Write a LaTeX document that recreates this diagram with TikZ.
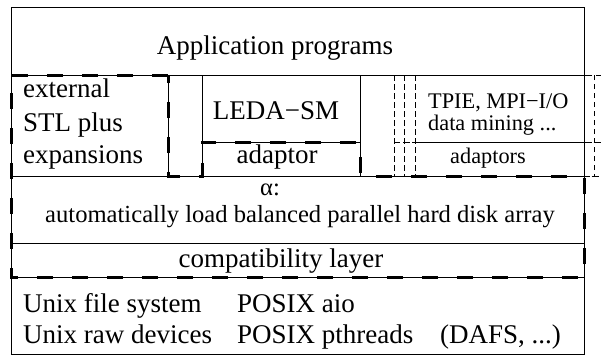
\documentclass[tikz,border=0pt]{standalone}
\usepackage{fontspec}
\setmainfont{Liberation Serif}
\usetikzlibrary{calc,positioning}

\begin{document}
\begin{tikzpicture}[x=1pt,y=-1pt,
  thinline/.style={line width=0.9pt},
  bolddash/.style={line width=3pt,dash pattern=on 16pt off 19pt},
  lightdash/.style={line width=0.6pt,dash pattern=on 5.5pt off 3.5pt},
  big/.style={inner sep=0pt,font=\fontsize{27}{31}\selectfont},
  mid/.style={inner sep=0pt,font=\fontsize{24.6}{28}\selectfont},
  small/.style={inner sep=0pt,font=\fontsize{22.3}{26}\selectfont}]
  \useasboundingbox (0,0) rectangle (601,356);

  % layer frames
  \draw[thinline] (11,7) rectangle (584,354);
  \draw[thinline] (11,75) -- (584,75);
  \draw[thinline] (11,176) -- (584,176);
  \draw[thinline] (11,243) -- (584,243);
  \draw[thinline] (11,277) -- (584,277);
  \draw[thinline] (168,75) -- (168,176);
  \draw[thinline] (202,75) -- (202,176) (360,75) -- (360,176);
  \draw[thinline] (202,142) -- (360,142);

  % stacked external libraries
  \foreach \d in {0,1,2}{
    \draw[lightdash] ($(394,75)+(\d*10.5,0)$) rectangle +(190,101);
    \draw[lightdash] ($(394,142)+(\d*10.5,0)$) -- +(190,0);
  }

  % the alpha part
  \draw[bolddash] (168,75) -- (11,75) -- (11,277) -- (584,277) -- (584,176)
    -- (360,176) -- (360,142) -- (202,142) -- (202,176) -- (168,176) -- cycle;

  \node[big,anchor=base] (app) at (275,54) {Application programs};

  \node[big,anchor=base west] (ext) at (23,97) {external};
  \node[big,anchor=base west] (stl) at (23,131) {STL plus};
  \node[big,anchor=base west] (expn) at (23,163) {expansions};

  \node[big,anchor=base] (leda) at (276,119) {LEDA−SM};
  \node[big,anchor=base] (adp) at (277,163) {adaptor};

  \node[small,anchor=base west] (tpie) at (428,108) {TPIE, MPI−I/O};
  \node[small,anchor=base west] (mine) at (428,130) {data mining ...};
  \node[small,anchor=base] (adps) at (488,163) {adaptors};

  \node[mid,anchor=base] (alpha) at (270,195) {α:};
  \node[mid,anchor=base] (auto) at (300,222) {automatically load balanced parallel hard disk array};
  \node[big,anchor=base] (compat) at (281,267) {compatibility layer};

  \node[big,anchor=base west] (ufs) at (23,312) {Unix file system};
  \node[big,anchor=base west] (aio) at (237,312) {POSIX aio};
  \node[big,anchor=base west] (raw) at (23,343) {Unix raw devices};
  \node[big,anchor=base west] (pth) at (237,343) {POSIX pthreads};
  \node[big,anchor=base west] (dafs) at (440,343) {(DAFS, ...)};
\end{tikzpicture}
\end{document}
